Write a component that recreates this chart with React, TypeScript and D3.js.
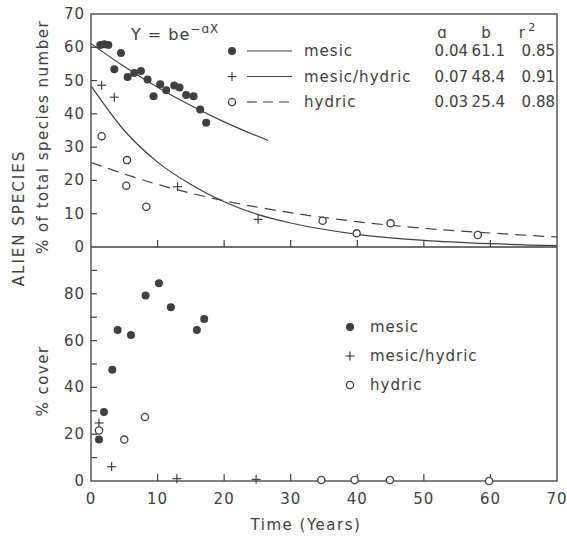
import React from "react";
import * as d3 from "d3";

// ---- data ----
const mesicSpeciesX = [1.4, 2.0, 2.6, 3.5, 4.5, 5.5, 6.5, 7.5, 8.5, 9.4, 10.4, 11.3, 12.5, 13.3, 14.3, 15.4, 16.4, 17.3];
const mesicSpeciesY = [60.7, 60.9, 60.7, 53.4, 58.3, 51.1, 52.3, 52.9, 50.3, 45.3, 48.9, 47.1, 48.5, 47.9, 45.7, 45.3, 41.3, 37.3];
const mesicHydricSpeciesX = [1.6, 3.5, 13.0, 25.1];
const mesicHydricSpeciesY = [48.6, 45.0, 18.1, 8.3];
const hydricSpeciesX = [1.6, 5.4, 5.3, 8.3, 34.8, 39.9, 45.0, 58.1];
const hydricSpeciesY = [33.3, 26.1, 18.4, 12.1, 7.9, 4.1, 7.1, 3.6];

const mesicCoverX = [1.2, 1.95, 3.2, 4.0, 6.0, 8.2, 10.2, 12.0, 15.9, 17.0];
const mesicCoverY = [17.7, 29.5, 47.5, 64.5, 62.4, 79.3, 84.5, 74.3, 64.5, 69.2];
const mesicHydricCoverX = [1.2, 3.1, 12.9, 24.8];
const mesicHydricCoverY = [24.8, 6.1, 1.0, 0.7];
const hydricCoverX = [1.2, 5.0, 8.1, 34.6, 39.6, 44.9, 59.8];
const hydricCoverY = [21.6, 17.7, 27.4, 0.4, 0.4, 0.4, 0];

// fitted curves
const mesicFitX = [0, 5, 10, 15, 20, 26.6];
const mesicFitY = [61.1, 54.2, 48.0, 42.5, 37.6, 32.0];
const mesicHydricFitX = [0, 5, 10, 15, 20, 25, 30, 40, 50, 60, 70];
const mesicHydricFitY = [48.4, 35.0, 25.5, 18.8, 13.6, 9.8, 7.2, 3.8, 2.0, 1.0, 0.4];
const hydricFitX = [0, 10, 20, 30, 40, 50, 60, 70];
const hydricFitY = [25.4, 18.8, 13.9, 10.3, 7.6, 5.6, 4.2, 3.0];

const legendNames = ["mesic", "mesic/hydric", "hydric"];
const coefA = ["0.04", "0.07", "0.03"];
const coefB = ["61.1", "48.4", "25.4"];
const coefR2 = ["0.85", "0.91", "0.88"];

const xTicks = [0, 10, 20, 30, 40, 50, 60, 70];
const topYTicks = [0, 10, 20, 30, 40, 50, 60, 70];
const bottomYTicks = [0, 10, 20, 30, 40, 50, 60, 70, 80, 90];
const bottomYLabels = [0, 20, 40, 60, 80];

// ---- layout ----
const W = 567, H = 538;
const L = 91, R = 557, T = 14, MID = 247, B = 481;
const INK = "#404040";
const FONT = "'DejaVu Sans', sans-serif";

const x = d3.scaleLinear().domain([0, 70]).range([L, R]);
const yTop = d3.scaleLinear().domain([0, 70]).range([MID, T]);
const yBot = d3.scaleLinear().domain([0, 100]).range([B, MID]);

const zip = (xs: number[], ys: number[]) => xs.map((v, i) => [v, ys[i]] as [number, number]);

function Dot({ cx, cy }: { cx: number; cy: number }) {
  return <circle cx={cx} cy={cy} r={4} fill={INK} />;
}
function Ring({ cx, cy }: { cx: number; cy: number }) {
  return <circle cx={cx} cy={cy} r={3.6} fill="white" stroke={INK} strokeWidth={1.3} />;
}
function Plus({ cx, cy }: { cx: number; cy: number }) {
  const s = 4.5;
  return (
    <g stroke={INK} strokeWidth={1.2}>
      <line x1={cx - s} x2={cx + s} y1={cy} y2={cy} />
      <line x1={cx} x2={cx} y1={cy - s} y2={cy + s} />
    </g>
  );
}

export default function App() {
  const lineTop = d3
    .line<[number, number]>()
    .x((d) => x(d[0]))
    .y((d) => yTop(d[1]))
    .curve(d3.curveMonotoneX);

  const fs = 15;
  return (
    <svg width={W} height={H} style={{ position: "absolute", left: 0, top: 0, background: "white" }} fontFamily={FONT}>
      <rect width={W} height={H} fill="white" />
      {/* frame */}
      <rect x={L} y={T} width={R - L} height={B - T} fill="none" stroke={INK} strokeWidth={1.3} />
      <line x1={L} x2={R} y1={MID} y2={MID} stroke={INK} strokeWidth={1.3} />

      {/* x ticks, bottom and middle */}
      {xTicks.slice(1, -1).map((t) => (
        <g key={"xt" + t} stroke={INK} strokeWidth={1.2}>
          <line x1={x(t)} x2={x(t)} y1={B} y2={B - 7} />
          <line x1={x(t)} x2={x(t)} y1={MID} y2={MID - 7} />
        </g>
      ))}
      {xTicks.map((t) => (
        <text key={"xl" + t} x={x(t)} y={B + 23} textAnchor="middle" fontSize={fs} fill={INK} letterSpacing={1}>
          {t}
        </text>
      ))}
      <text x={306} y={530} textAnchor="middle" fontSize={fs} fill={INK} letterSpacing={1.5}>
        Time (Years)
      </text>

      {/* top y axis */}
      {topYTicks.slice(1, -1).map((t) => (
        <line key={"yt" + t} x1={L} x2={L + 6} y1={yTop(t)} y2={yTop(t)} stroke={INK} strokeWidth={1.2} />
      ))}
      {topYTicks.map((t) => (
        <text key={"ytl" + t} x={L - 6} y={yTop(t) + 5} textAnchor="end" fontSize={fs} fill={INK} letterSpacing={1}>
          {t}
        </text>
      ))}
      {/* bottom y axis */}
      {bottomYTicks.slice(1).map((t) => (
        <line key={"yb" + t} x1={L} x2={L + 6} y1={yBot(t)} y2={yBot(t)} stroke={INK} strokeWidth={1.2} />
      ))}
      {bottomYLabels.map((t) => (
        <text key={"ybl" + t} x={L - 6} y={yBot(t) + 5} textAnchor="end" fontSize={fs} fill={INK} letterSpacing={1}>
          {t}
        </text>
      ))}

      {/* axis titles */}
      <text transform="translate(24,218) rotate(-90)" textAnchor="middle" fontSize={fs} fill={INK} letterSpacing={2}>
        ALIEN SPECIES
      </text>
      <text transform="translate(48,137) rotate(-90)" textAnchor="middle" fontSize={fs} fill={INK} letterSpacing={1.5}>
        % of total species number
      </text>
      <text transform="translate(48,381) rotate(-90)" textAnchor="middle" fontSize={fs} fill={INK} letterSpacing={1.5}>
        % cover
      </text>

      {/* fitted curves */}
      <path d={lineTop(zip(mesicFitX, mesicFitY)) || ""} fill="none" stroke={INK} strokeWidth={1.2} />
      <path d={lineTop(zip(mesicHydricFitX, mesicHydricFitY)) || ""} fill="none" stroke={INK} strokeWidth={1.2} />
      <path d={lineTop(zip(hydricFitX, hydricFitY)) || ""} fill="none" stroke={INK} strokeWidth={1.2} strokeDasharray="11,7" />

      {/* top points */}
      {zip(mesicSpeciesX, mesicSpeciesY).map((d, i) => <Dot key={"ms" + i} cx={x(d[0])} cy={yTop(d[1])} />)}
      {zip(mesicHydricSpeciesX, mesicHydricSpeciesY).map((d, i) => <Plus key={"mhs" + i} cx={x(d[0])} cy={yTop(d[1])} />)}
      {zip(hydricSpeciesX, hydricSpeciesY).map((d, i) => <Ring key={"hs" + i} cx={x(d[0])} cy={yTop(d[1])} />)}

      {/* bottom points */}
      {zip(mesicCoverX, mesicCoverY).map((d, i) => <Dot key={"mc" + i} cx={x(d[0])} cy={yBot(d[1])} />)}
      {zip(mesicHydricCoverX, mesicHydricCoverY).map((d, i) => <Plus key={"mhc" + i} cx={x(d[0])} cy={yBot(d[1])} />)}
      {zip(hydricCoverX, hydricCoverY).map((d, i) => <Ring key={"hc" + i} cx={x(d[0])} cy={yBot(d[1])} />)}

      {/* top legend */}
      <text x={131} y={40} fontSize={16} fill={INK} letterSpacing={1}>
        Y = be
        <tspan dy={-7} fontSize={12}>−ɑX</tspan>
      </text>
      <text x={442} y={38} textAnchor="middle" fontSize={fs} fill={INK}>ɑ</text>
      <text x={486} y={38} textAnchor="middle" fontSize={fs} fill={INK}>b</text>
      <text x={527} y={38} textAnchor="middle" fontSize={fs} fill={INK}>
        r<tspan dy={-7} fontSize={11}> 2</tspan>
      </text>
      {legendNames.map((n, i) => {
        const cy = 51 + i * 25.5;
        return (
          <g key={"lg" + i}>
            {i === 0 && <Dot cx={232} cy={cy} />}
            {i === 1 && <Plus cx={232} cy={cy} />}
            {i === 2 && <Ring cx={232} cy={cy} />}
            <line x1={247} x2={292} y1={cy} y2={cy} stroke={INK} strokeWidth={1.2} strokeDasharray={i === 2 ? "10,6" : undefined} />
            <text x={304} y={cy + 5} fontSize={fs} fill={INK} letterSpacing={1}>{n}</text>
            <text x={468} y={cy + 5} textAnchor="end" fontSize={fs} fill={INK}>{coefA[i]}</text>
            <text x={505} y={cy + 5} textAnchor="end" fontSize={fs} fill={INK}>{coefB[i]}</text>
            <text x={555} y={cy + 5} textAnchor="end" fontSize={fs} fill={INK}>{coefR2[i]}</text>
          </g>
        );
      })}

      {/* bottom legend */}
      {legendNames.map((n, i) => {
        const cy = 327 + i * 29;
        return (
          <g key={"bl" + i}>
            {i === 0 && <Dot cx={350} cy={cy} />}
            {i === 1 && <Plus cx={350} cy={cy} />}
            {i === 2 && <Ring cx={350} cy={cy} />}
            <text x={370} y={cy + 5} fontSize={fs} fill={INK} letterSpacing={1}>{n}</text>
          </g>
        );
      })}
    </svg>
  );
}
